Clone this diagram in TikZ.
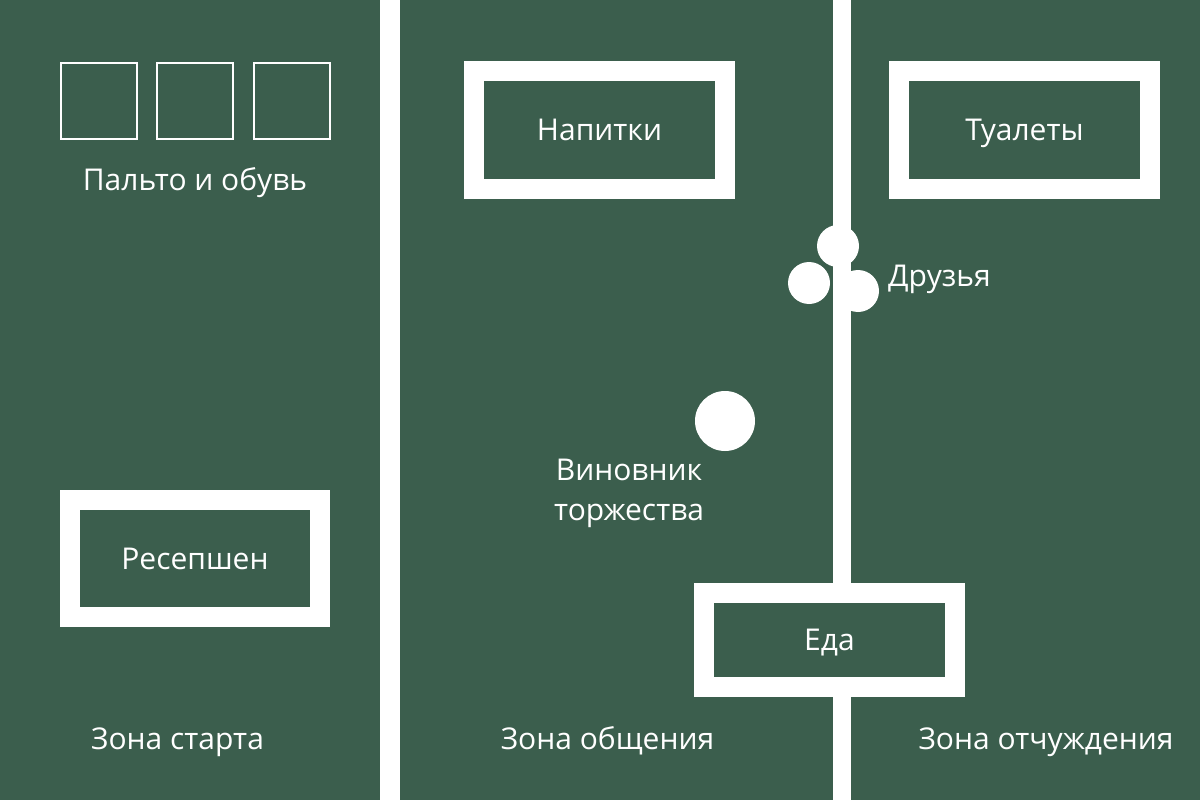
\documentclass[tikz,border=0pt]{standalone}
\usepackage{fontspec}
\setmainfont{Open Sans}
\definecolor{bg}{HTML}{3B5E4D}
\tikzset{
  x=1pt, y=-1pt,
  lbl/.style={text=white, inner sep=0pt, font=\fontsize{30}{40}\selectfont},
  zonebox/.style={draw=white, line width=20pt, fill=bg, inner sep=0pt,
    text=white, font=\fontsize{30}{40}\selectfont, text height=21.4pt, text depth=0pt},
  coat/.style={draw=white, line width=2pt, minimum size=76pt, inner sep=0pt},
  person/.style={circle, fill=white, inner sep=0pt},
}
\begin{document}
\begin{tikzpicture}
\fill[bg] (0,0) rectangle (1200,800);
\useasboundingbox (0,0) rectangle (1200,800);
% dividers
\fill[white] (380,0) rectangle (400,800);
\fill[white] (833,0) rectangle (851,800);
% coat squares
\node[coat] (sq1) at (98.5,100.7) {};
\node[coat] (sq2) at (195,100.7) {};
\node[coat] (sq3) at (291.5,100.7) {};
\node[lbl, anchor=base] (coatL) at (195,190) {Пальто и обувь};
% boxes
\node[zonebox, minimum width=250pt, minimum height=117pt] (recep) at (195,558.5) {Ресепшен};
\node[zonebox, minimum width=251pt, minimum height=117pt] (drinks) at (599.5,130) {Напитки};
\node[zonebox, minimum width=251pt, minimum height=117pt] (wc) at (1024.5,130) {Туалеты};
\node[zonebox, minimum width=251pt, minimum height=94pt] (food) at (829.5,640) {Еда};
% people
\node[person, minimum size=42pt] (f1) at (838,246) {};
\node[person, minimum size=42pt] (f2) at (809,283) {};
\node[person, minimum size=42pt] (f3) at (858,291) {};
\node[lbl, anchor=base west] (friendsL) at (888,286) {Друзья};
\node[person, minimum size=60pt] (hero) at (725,421) {};
\node[lbl, anchor=base] (heroL1) at (629,480) {Виновник};
\node[lbl, anchor=base] (heroL2) at (629,520) {торжества};
% zone labels
\node[lbl, anchor=base] (z1) at (177.5,749) {Зона старта};
\node[lbl, anchor=base] (z2) at (607.5,749) {Зона общения};
\node[lbl, anchor=base] (z3) at (1046,749) {Зона отчуждения};
\end{tikzpicture}
\end{document}
